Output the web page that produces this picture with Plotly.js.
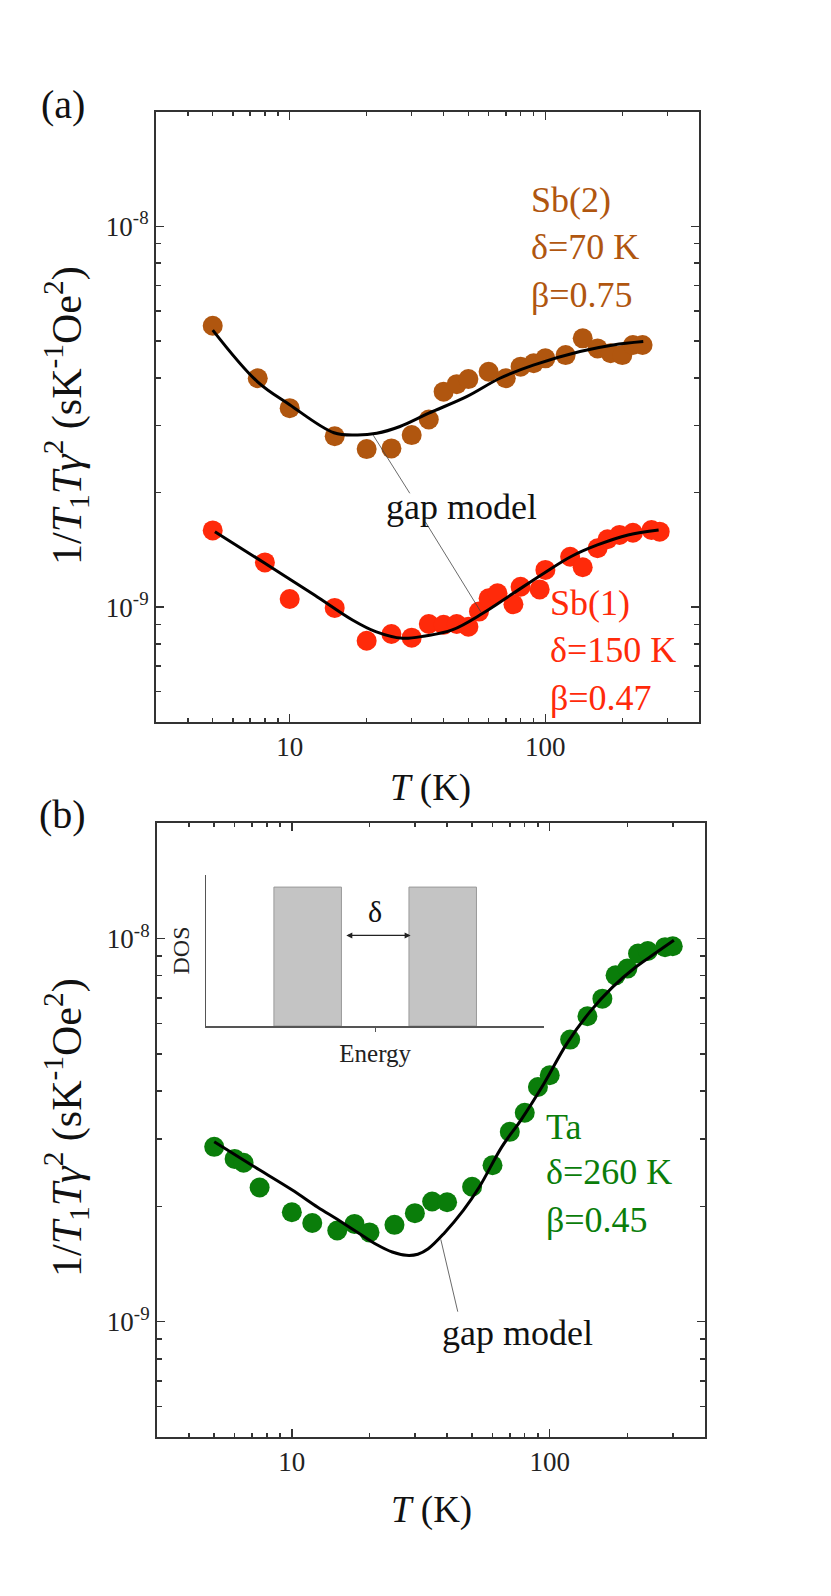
<!DOCTYPE html>
<html>
<head>
<meta charset="utf-8">
<script src="https://cdn.plot.ly/plotly-3.0.1.min.js"></script>
<style>
  html, body { margin: 0; padding: 0; background: #fff; }
  #graph { width: 831px; height: 1596px; }
</style>
</head>
<body>
<div id="graph"></div>
<script>
// panel (a): Sb(2) and Sb(1) sites
const sb2T = [5, 7.5, 10, 15, 20, 25, 30, 35, 40, 45, 50, 60, 70, 80, 90, 100, 120, 140, 160, 180, 200, 220, 240];
const sb2R = [5.48e-9, 3.99e-9, 3.33e-9, 2.81e-9, 2.60e-9, 2.61e-9, 2.83e-9, 3.11e-9, 3.68e-9, 3.85e-9, 3.97e-9, 4.15e-9, 3.99e-9, 4.28e-9, 4.37e-9, 4.50e-9, 4.59e-9, 5.08e-9, 4.78e-9, 4.64e-9, 4.59e-9, 4.88e-9, 4.88e-9];
const sb2FitT = [5, 7.47, 10, 14.9, 18.3, 21.9, 27, 35, 49.2, 66.4, 89.7, 136.6, 184.3, 241.5];
const sb2FitR = [5.34e-9, 3.91e-9, 3.40e-9, 2.87e-9, 2.83e-9, 2.86e-9, 2.98e-9, 3.23e-9, 3.57e-9, 3.99e-9, 4.32e-9, 4.69e-9, 4.88e-9, 4.98e-9];

const sb1T = [5, 8, 10, 15, 20, 25, 30, 35, 40, 45, 50, 55, 60, 65, 75, 80, 95, 100, 125, 140, 160, 175, 195, 220, 260, 280];
const sb1R = [1.59e-9, 1.31e-9, 1.05e-9, 0.995e-9, 8.16e-10, 8.50e-10, 8.31e-10, 9.03e-10, 8.98e-10, 9.03e-10, 8.88e-10, 9.73e-10, 1.055e-9, 1.087e-9, 1.017e-9, 1.131e-9, 1.113e-9, 1.252e-9, 1.356e-9, 1.272e-9, 1.427e-9, 1.507e-9, 1.547e-9, 1.568e-9, 1.594e-9, 1.578e-9];
const sb1FitT = [5.1, 8, 12.5, 17.6, 21.7, 27.6, 33.9, 43.2, 56.9, 74.9, 98.7, 125.6, 159.8, 210.6, 277.3];
const sb1FitR = [1.578e-9, 1.303e-9, 1.076e-9, 9.25e-10, 8.62e-10, 8.28e-10, 8.40e-10, 8.71e-10, 9.63e-10, 1.087e-9, 1.227e-9, 1.356e-9, 1.456e-9, 1.547e-9, 1.594e-9];

// panel (b): Ta site
const taT = [5, 6, 6.5, 7.5, 10, 12, 15, 17.5, 20, 25, 30, 35, 40, 50, 60, 70, 80, 90, 100, 120, 140, 160, 180, 200, 220, 240, 280, 300];
const taR = [2.86e-9, 2.66e-9, 2.60e-9, 2.24e-9, 1.93e-9, 1.81e-9, 1.73e-9, 1.80e-9, 1.71e-9, 1.79e-9, 1.92e-9, 2.06e-9, 2.05e-9, 2.25e-9, 2.56e-9, 3.13e-9, 3.51e-9, 4.10e-9, 4.40e-9, 5.45e-9, 6.27e-9, 6.97e-9, 8.02e-9, 8.35e-9, 9.14e-9, 9.28e-9, 9.50e-9, 9.55e-9];
const taFitT = [5, 7, 10, 12.6, 15, 18, 21.3, 24.5, 27.8, 30.8, 33.8, 38.9, 46.3, 53.4, 65.2, 77.3, 94.9, 116.5, 143.1, 175.6, 215.6, 255.6, 303];
const taFitR = [2.95e-9, 2.56e-9, 2.21e-9, 1.99e-9, 1.85e-9, 1.71e-9, 1.59e-9, 1.52e-9, 1.49e-9, 1.50e-9, 1.55e-9, 1.70e-9, 1.955e-9, 2.25e-9, 2.86e-9, 3.36e-9, 4.18e-9, 5.32e-9, 6.44e-9, 7.48e-9, 8.43e-9, 9.14e-9, 9.90e-9];

// inset: density of states sketch
const bandCenter = [3, 7];
const bandWidth = [2, 2];
const bandHeight = [0.92, 0.92];

// ticks
const xMajor = [10, 100];
const xMajorText = ['10', '100'];
const xMinor = [4, 5, 6, 7, 8, 9, 20, 30, 40, 50, 60, 70, 80, 90, 200, 300];
const yMajor = [1e-9, 1e-8];
const yMajorText = ['10<sup>-9</sup>', '10<sup>-8</sup>'];
const yMinor = [6e-10, 7e-10, 8e-10, 9e-10, 2e-9, 3e-9, 4e-9, 5e-9, 6e-9, 7e-9, 8e-9, 9e-9];

const W = 831, H = 1596;
const serif = "'Liberation Serif', 'Times New Roman', serif";
const brown = '#b0560f';
const red = '#ff2a0a';
const green = '#0a7d0a';
const L = Math.log10;

function px(x) { return x / W; }
function py(y) { return 1 - y / H; }

function xLog(dom, anchor) {
    return {
        type: 'log', domain: dom, anchor: anchor,
        range: [L(3), L(400)],
        tickmode: 'array', tickvals: xMajor, ticktext: xMajorText,
        ticks: 'inside', ticklen: 8, tickwidth: 1.5, tickcolor: '#333',
        minor: { tickmode: 'array', tickvals: xMinor, ticks: 'inside', ticklen: 4, tickwidth: 1.5, tickcolor: '#333', showgrid: false },
        showline: true, linewidth: 2, linecolor: '#333', mirror: 'allticks',
        showgrid: false, zeroline: false,
        tickfont: { family: serif, size: 27, color: '#222' }
    };
}
function yLog(dom, anchor) {
    return {
        type: 'log', domain: dom, anchor: anchor,
        range: [L(5e-10), L(2e-8)],
        tickmode: 'array', tickvals: yMajor, ticktext: yMajorText,
        ticks: 'inside', ticklen: 8, tickwidth: 1.5, tickcolor: '#333',
        minor: { tickmode: 'array', tickvals: yMinor, ticks: 'inside', ticklen: 5, tickwidth: 1.5, tickcolor: '#333', showgrid: false },
        showline: true, linewidth: 2, linecolor: '#333', mirror: 'allticks',
        showgrid: false, zeroline: false,
        tickfont: { family: serif, size: 27, color: '#222' }
    };
}

function dots(t, r, color, xa, ya) {
    return { type: 'scatter', mode: 'markers', x: t, y: r, xaxis: xa, yaxis: ya,
        marker: { size: 20, color: color, line: { width: 0 } } };
}
function fit(t, r, xa, ya) {
    return { type: 'scatter', mode: 'lines', x: t, y: r, xaxis: xa, yaxis: ya,
        line: { color: '#000', width: 3, shape: 'spline', smoothing: 1 } };
}
function leader(t, r, xa, ya) {
    return { type: 'scatter', mode: 'lines', x: t, y: r, xaxis: xa, yaxis: ya,
        line: { color: '#444', width: 0.8 } };
}

var data = [
    dots(sb2T, sb2R, brown, 'x', 'y'),
    dots(sb1T, sb1R, red, 'x', 'y'),
    fit(sb2FitT, sb2FitR, 'x', 'y'),
    fit(sb1FitT, sb1FitR, 'x', 'y'),
    leader([21.2, 29.5], [2.83e-9, 1.99e-9], 'x', 'y'),
    leader([33.9, 56], [1.676e-9, 9.7e-10], 'x', 'y'),
    dots(taT, taR, green, 'x2', 'y2'),
    fit(taFitT, taFitR, 'x2', 'y2'),
    leader([37.8, 44], [1.64e-9, 1.062e-9], 'x2', 'y2'),
    { type: 'bar', x: bandCenter, y: bandHeight, width: bandWidth, xaxis: 'x3', yaxis: 'y3',
      marker: { color: '#c4c4c4', line: { color: '#9a9a9a', width: 1 } } }
];

function label(xa, ya, t, r, text, color, size) {
    return { xref: xa, yref: ya, x: L(t), y: L(r), text: text, showarrow: false,
        xanchor: 'left', yanchor: 'middle', font: { family: serif, size: size, color: color } };
}
function paperText(x, y, text, size, angle) {
    return { xref: 'paper', yref: 'paper', x: px(x), y: py(y), text: text, showarrow: false,
        xanchor: 'center', yanchor: 'middle', textangle: angle || 0,
        font: { family: serif, size: size, color: '#111' } };
}

const yTitle = '1/<i>T</i><sub>1</sub><i>T\u03b3</i><sup>2</sup> (sK<sup>-1</sup>Oe<sup>2</sup>)';

var annotations = [
    paperText(63, 104, '(a)', 40),
    paperText(63, 814, '(b)', 40),
    paperText(430, 788, '<i>T</i> (K)', 37),
    paperText(432, 1510, '<i>T</i> (K)', 37),
    paperText(66, 416, yTitle, 42, -90),
    paperText(66, 1128, yTitle, 42, -90),
    label('x', 'y', 86.5, 1.172e-8, 'Sb(2)', brown, 36),
    label('x', 'y', 86.5, 8.84e-9, '\u03b4=70 K', brown, 36),
    label('x', 'y', 86.5, 6.60e-9, '\u03b2=0.75', brown, 36),
    label('x', 'y', 102, 1.025e-9, 'Sb(1)', red, 36),
    label('x', 'y', 102, 7.72e-10, '\u03b4=150 K', red, 36),
    label('x', 'y', 102, 5.77e-10, '\u03b2=0.47', red, 36),
    { xref: 'x', yref: 'y', x: L(47), y: L(1.832e-9), text: 'gap model', showarrow: false,
      font: { family: serif, size: 36, color: '#111' } },
    label('x2', 'y2', 94.6, 3.226e-9, 'Ta', green, 36),
    label('x2', 'y2', 94.6, 2.46e-9, '\u03b4=260 K', green, 36),
    label('x2', 'y2', 94.6, 1.842e-9, '\u03b2=0.45', green, 36),
    { xref: 'x2', yref: 'y2', x: L(75.2), y: L(9.33e-10), text: 'gap model', showarrow: false,
      font: { family: serif, size: 36, color: '#111' } },
    // inset gap arrow and label
    { xref: 'x3', yref: 'y3', x: 6.05, y: 0.6, axref: 'x3', ayref: 'y3', ax: 4.1, ay: 0.6,
      text: '', showarrow: true, arrowside: 'end+start', arrowhead: 2, startarrowhead: 2,
      arrowsize: 1, startarrowsize: 1, arrowwidth: 1.2, arrowcolor: '#222' },
    { xref: 'x3', yref: 'y3', x: 5, y: 0.76, text: '\u03b4', showarrow: false,
      font: { family: serif, size: 30, color: '#111' } }
];

var layout = {
    width: W, height: H,
    margin: { l: 0, r: 0, t: 0, b: 0 },
    paper_bgcolor: '#fff', plot_bgcolor: 'rgba(0,0,0,0)',
    showlegend: false,
    bargap: 0,
    xaxis: xLog([px(156), px(699.3)], 'y'),
    yaxis: yLog([py(721.7), py(111.7)], 'x'),
    xaxis2: xLog([px(157), px(705)], 'y2'),
    yaxis2: yLog([py(1437), py(823.3)], 'x2'),
    xaxis3: {
        domain: [px(206.4), px(544)], anchor: 'y3', range: [0, 10],
        showline: true, linewidth: 1.5, linecolor: '#555', showgrid: false, zeroline: false,
        tickmode: 'array', tickvals: [5], ticks: 'outside', ticklen: 4, tickcolor: '#555',
        showticklabels: false,
        title: { text: 'Energy', font: { family: serif, size: 25, color: '#222' }, standoff: 14 }
    },
    yaxis3: {
        domain: [py(1026), py(875)], anchor: 'x3', range: [0, 1],
        showline: true, linewidth: 1.5, linecolor: '#555', showgrid: false, zeroline: false,
        ticks: '', showticklabels: false,
        title: { text: 'DOS', font: { family: serif, size: 24, color: '#222' }, standoff: 8 }
    },
    annotations: annotations
};

Plotly.newPlot('graph', data, layout, { staticPlot: true });
</script>
</body>
</html>
